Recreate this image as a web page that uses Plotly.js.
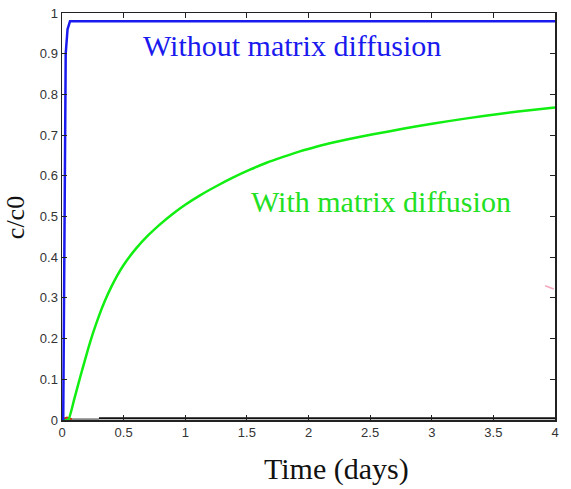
<!DOCTYPE html>
<html>
<head>
<meta charset="utf-8">
<script src="https://cdn.plot.ly/plotly-3.0.1.min.js"></script>
<style>html,body{margin:0;padding:0;background:#fff;}#chart{width:571px;height:489px;}</style>
</head>
<body>
<div id="chart"></div>
<script>
// Without matrix diffusion (blue)
const blueX = [0, 0.01, 0.03, 0.045, 0.065, 0.5, 1, 1.5, 2, 2.5, 3, 3.5, 4];
const blueY = [0, 0, 0.90, 0.96, 0.98, 0.98, 0.98, 0.98, 0.98, 0.98, 0.98, 0.98, 0.98];
// With matrix diffusion (green)
const greenX = [0, 0.05, 0.1, 0.15, 0.2, 0.25, 0.3, 0.35, 0.4, 0.45, 0.5, 0.6, 0.7, 0.8, 0.9, 1.0, 1.12, 1.255, 1.39, 1.525, 1.66, 1.8, 1.93, 2.07, 2.2, 2.42, 2.65, 2.88, 3.15, 3.42, 3.7, 4.0];
const greenY = [0, 0, 0.052, 0.108, 0.162, 0.212, 0.256, 0.294, 0.327, 0.356, 0.381, 0.421, 0.454, 0.482, 0.507, 0.529, 0.552, 0.575, 0.596, 0.615, 0.632, 0.647, 0.66, 0.672, 0.682, 0.696, 0.709, 0.722, 0.735, 0.747, 0.758, 0.768];
// other series near zero
const grayX = [0, 0.3];
const grayY = [0.002, 0.002];
const blackX = [0.3, 4];
const blackY = [0.004, 0.004];
const redX = [0, 0.04, 0.08];
const redY = [0.002, 0.006, 0.002];
const pinkX = [3.92, 3.99];
const pinkY = [0.33, 0.322];
// tick labels
const xTicks = [0, 0.5, 1, 1.5, 2, 2.5, 3, 3.5, 4];
const xTickText = ['0', '0.5', '1', '1.5', '2', '2.5', '3', '3.5', '4'];
const yTicks = [0, 0.1, 0.2, 0.3, 0.4, 0.5, 0.6, 0.7, 0.8, 0.9, 1];
const yTickText = ['0', '0.1', '0.2', '0.3', '0.4', '0.5', '0.6', '0.7', '0.8', '0.9', '1'];

const traces = [
  {x: grayX, y: grayY, mode: 'lines', line: {color: '#888888', width: 2}, hoverinfo: 'skip'},
  {x: blackX, y: blackY, mode: 'lines', line: {color: '#111111', width: 2}, hoverinfo: 'skip'},
  {x: redX, y: redY, mode: 'lines', line: {color: '#cc3311', width: 2}, hoverinfo: 'skip'},
  {x: pinkX, y: pinkY, mode: 'lines', line: {color: 'rgba(240,130,160,0.7)', width: 1.5}, hoverinfo: 'skip'},
  {x: greenX, y: greenY, mode: 'lines', line: {color: '#11ee11', width: 2.5, shape: 'spline', smoothing: 0.5}, name: 'With matrix diffusion'},
  {x: blueX, y: blueY, mode: 'lines', line: {color: '#1a1aee', width: 2.5}, name: 'Without matrix diffusion'}
];

const axisCommon = {
  showline: true, linecolor: '#222', linewidth: 1.5, mirror: 'ticks',
  ticks: 'inside', ticklen: 5, tickcolor: '#222', tickwidth: 1,
  showgrid: false, zeroline: false,
  tickfont: {family: 'Liberation Sans, Arial, sans-serif', size: 13, color: '#333'}
};

const serif = 'Liberation Serif, Times New Roman, serif';
const layout = {
  width: 571, height: 489,
  margin: {l: 62, r: 16, t: 13, b: 69},
  paper_bgcolor: '#fff', plot_bgcolor: '#fff',
  showlegend: false,
  xaxis: Object.assign({}, axisCommon, {range: [0, 4], tickvals: xTicks, ticktext: xTickText}),
  yaxis: Object.assign({}, axisCommon, {range: [0, 1], tickvals: yTicks, ticktext: yTickText}),
  annotations: [
    {text: 'Without matrix diffusion', x: 1.866, y: 0.921, xref: 'x', yref: 'y', showarrow: false,
     xanchor: 'center', yanchor: 'middle',
     font: {family: serif, size: 30, color: '#1a1aee'}},
    {text: 'With matrix diffusion', x: 2.592, y: 0.536, xref: 'x', yref: 'y', showarrow: false,
     xanchor: 'center', yanchor: 'middle',
     font: {family: serif, size: 30, color: '#22e022'}},
    {text: 'Time (days)', x: 0.557, y: -0.12, xref: 'paper', yref: 'paper', showarrow: false,
     xanchor: 'center', yanchor: 'middle',
     font: {family: serif, size: 30, color: '#111'}},
    {text: 'c/c0', x: -0.0953, y: 0.496, xref: 'paper', yref: 'paper', showarrow: false, textangle: -90,
     xanchor: 'center', yanchor: 'middle',
     font: {family: serif, size: 26, color: '#111'}}
  ]
};

Plotly.newPlot('chart', traces, layout, {staticPlot: true, displayModeBar: false});
</script>
</body>
</html>
